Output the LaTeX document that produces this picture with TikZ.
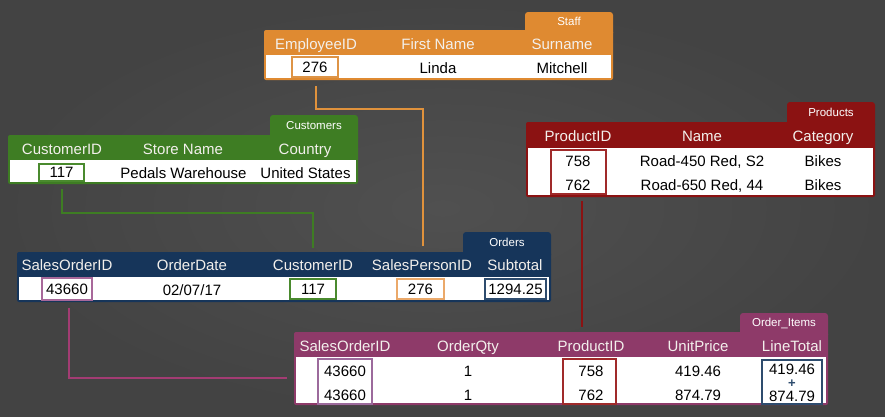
\documentclass[tikz,border=0pt]{standalone}
\usepackage{fontspec}
\setmainfont{Liberation Sans}
\usetikzlibrary{calc}
\definecolor{bgA}{HTML}{505050}
\definecolor{bgB}{HTML}{434343}
\definecolor{orangeC}{HTML}{DF8A31}
\definecolor{greenC}{HTML}{3E7D23}
\definecolor{redC}{HTML}{8B1212}
\definecolor{navyC}{HTML}{16355A}
\definecolor{magC}{HTML}{8E3A69}
\definecolor{orangeK}{HTML}{DE9446}
\definecolor{orangeK2}{HTML}{EBA96A}
\definecolor{greenK}{HTML}{4A8A2E}
\definecolor{redK}{HTML}{A02A2A}
\definecolor{navyK}{HTML}{2E4C6E}
\definecolor{magK}{HTML}{A8689A}
\definecolor{magK2}{HTML}{9C6A9C}
\definecolor{hdrtext}{HTML}{F3F0EC}
\definecolor{oLine}{HTML}{E0923C}
\definecolor{mLine}{HTML}{A33C73}
\begin{document}
\begin{tikzpicture}[x=1pt,y=-1pt,
  hdr/.style={font=\fontsize{15}{18}\selectfont, text=hdrtext, inner sep=0pt, text height=10.7pt, text depth=0pt},
  dat/.style={font=\fontsize{15}{18}\selectfont, text=black, inner sep=0pt, text height=10.7pt, text depth=0pt},
  tabtext/.style={font=\fontsize{11.5}{14}\selectfont, text=white, inner sep=0pt, text height=8.2pt, text depth=0pt},
  keybox/.style={draw=#1, line width=1.6pt, fill=white, inner sep=0pt, font=\fontsize{15}{18}\selectfont, text height=10.7pt, text depth=0pt},
  link/.style={draw=#1, line width=2.6pt}
]
\useasboundingbox (0,0) rectangle (885,416);
\shade[inner color=bgA, outer color=bgB] (0,0) rectangle (885,416);

% ---------- Staff ----------
\fill[orangeC, rounded corners=3pt] (525,12) rectangle (613,36);
\fill[orangeC, rounded corners=2pt] (264,30) rectangle (613,80);
\fill[white] (265.6,55) rectangle (611.4,78.4);
\node[tabtext] (tStaff) at (569,21) {Staff};
\node[hdr] (hEmp) at (316,44) {EmployeeID};
\node[hdr] (hFirst) at (438,44) {First Name};
\node[hdr] (hSur) at (562,44) {Surname};
\node[keybox=orangeK, minimum width=46pt, minimum height=20pt] (s276) at (315,67) {276};
\node[dat] (dLinda) at (438,68) {Linda};
\node[dat] (dMitch) at (562,68) {Mitchell};

% ---------- Customers ----------
\fill[greenC, rounded corners=3pt] (270,115) rectangle (358,141);
\fill[greenC, rounded corners=2pt] (8,135) rectangle (358,184);
\fill[white] (9.6,160) rectangle (356.4,182.4);
\node[tabtext] (tCust) at (314,125) {Customers};
\node[hdr] (hCID) at (62,149) {CustomerID};
\node[hdr] (hStore) at (183,149) {Store Name};
\node[hdr] (hCountry) at (305,149) {Country};
\node[keybox=greenK, minimum width=45pt, minimum height=17pt] (c117) at (61.5,172.5) {117};
\node[dat] (dStore) at (183.5,173) {Pedals Warehouse};
\node[dat] (dCountry) at (305.5,173) {United States};

% ---------- Products ----------
\fill[redC, rounded corners=3pt] (787,102) rectangle (875,128);
\fill[redC, rounded corners=2pt] (526,122) rectangle (875,197);
\fill[white] (527.6,148) rectangle (873.4,195.4);
\node[tabtext] (tProd) at (831,112) {Products};
\node[hdr] (hPID) at (578,136) {ProductID};
\node[hdr] (hName) at (702,136) {Name};
\node[hdr] (hCat) at (823,136) {Category};
\node[keybox=redK, fill=none, minimum width=55pt, minimum height=44pt] (pKey) at (578.5,172) {};
\node[dat] (p758) at (578,161) {758};
\node[dat] (p762) at (578,185) {762};
\node[dat] (pN1) at (702,161) {Road-450 Red, S2};
\node[dat] (pN2) at (702,185) {Road-650 Red, 44};
\node[dat] (pC1) at (823,161) {Bikes};
\node[dat] (pC2) at (823,185) {Bikes};

% ---------- Orders ----------
\fill[navyC, rounded corners=3pt] (463,232) rectangle (551,258);
\fill[navyC, rounded corners=2pt] (17,252) rectangle (551,302);
\fill[white] (18.6,277) rectangle (549.4,300.4);
\node[tabtext] (tOrd) at (507,242) {Orders};
\node[hdr] (hSOID) at (67,265) {SalesOrderID};
\node[hdr] (hODate) at (192,265) {OrderDate};
\node[hdr] (hOCID) at (313,265) {CustomerID};
\node[hdr] (hSPID) at (422,265) {SalesPersonID};
\node[hdr] (hSub) at (515,265) {Subtotal};
\node[keybox=magK, minimum width=50pt, minimum height=22pt] (o43660) at (67,289) {43660};
\node[dat] (oDate) at (192,290) {02/07/17};
\node[keybox=greenK, minimum width=46pt, minimum height=20pt] (o117) at (313,289) {117};
\node[keybox=orangeK2, minimum width=47pt, minimum height=20pt] (o276) at (420.5,289) {276};
\node[keybox=navyK, minimum width=61pt, minimum height=20pt] (oSub) at (515.5,289) {1294.25};

% ---------- Order_Items ----------
\fill[magC, rounded corners=3pt] (740,313) rectangle (828,338);
\fill[magC, rounded corners=2pt] (294,332) rectangle (828,405);
\fill[white] (295.6,357) rectangle (826.4,403.4);
\node[tabtext] (tOI) at (784,322) {Order\_Items};
\node[hdr] (hISO) at (345,346) {SalesOrderID};
\node[hdr] (hIQty) at (468,346) {OrderQty};
\node[hdr] (hIPID) at (591,346) {ProductID};
\node[hdr] (hIUP) at (698,346) {UnitPrice};
\node[hdr] (hILT) at (792,346) {LineTotal};
\node[keybox=magK2, fill=none, minimum width=54pt, minimum height=45pt] (iSOKey) at (345,381.5) {};
\node[dat] (iSO1) at (345,371) {43660};
\node[dat] (iSO2) at (345,395) {43660};
\node[dat] (iQ1) at (468,371) {1};
\node[dat] (iQ2) at (468,395) {1};
\node[keybox=redK, fill=none, minimum width=53pt, minimum height=45pt] (iPKey) at (589.5,381.5) {};
\node[dat] (iP1) at (591,371) {758};
\node[dat] (iP2) at (591,395) {762};
\node[dat] (iU1) at (698,371) {419.46};
\node[dat] (iU2) at (698,395) {874.79};
\node[keybox=navyK, fill=none, minimum width=60pt, minimum height=44pt] (iLTKey) at (792,382) {};
\node[dat] (iL1) at (792,369) {419.46};
\node[font=\fontsize{13}{14}\selectfont\bfseries, text=navyK, inner sep=0pt, text height=8pt, text depth=0pt, anchor=base] (iPlus) at (792,387.3) {+};
\node[dat] (iL2) at (792,396) {874.79};

% ---------- connectors ----------
\coordinate (oEnd) at (423,246);
\coordinate (gEnd) at (313,248);
\coordinate (rEnd) at (582,327);
\coordinate (mEnd) at (287,378);
\draw[link=oLine] ($(s276.south)+(1,8)$) -- ++(0,23) -| (oEnd);
\draw[link=greenC] ($(c117.south)+(0.5,7)$) -- ++(0,24) -| (gEnd);
\draw[link=redC] ($(pKey.south)+(3.5,6)$) -- (rEnd);
\draw[link=mLine] ($(o43660.south)+(2,7)$) |- (mEnd);
\end{tikzpicture}
\end{document}
